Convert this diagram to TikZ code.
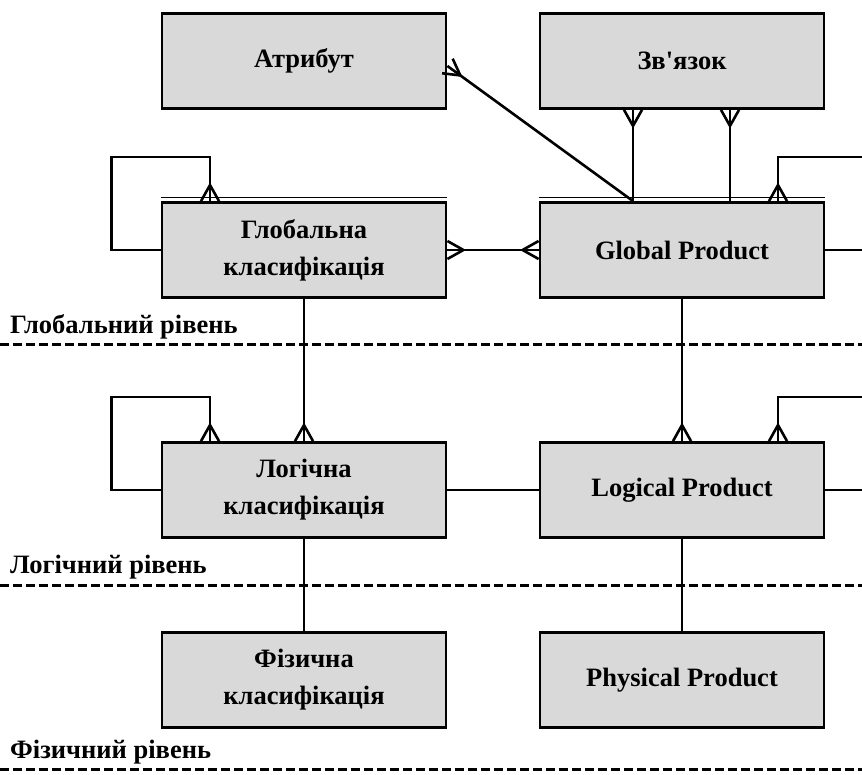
\documentclass[tikz,border=0pt]{standalone}
\usepackage{fontspec}
\setmainfont{Liberation Serif}
\usetikzlibrary{arrows.meta}

% crow's foot end
\pgfdeclarearrow{
  name = Crow,
  setup code = {
    \pgfarrowssettipend{0pt}
    \pgfarrowssetlineend{0pt}
    \pgfarrowssetbackend{-\pgfarrowlength}
    \pgfarrowssavethe\pgfarrowlength
    \pgfarrowssavethe\pgfarrowwidth
  },
  drawing code = {
    \pgfsetroundjoin
    \pgfpathmoveto{\pgfqpoint{0pt}{.5\pgfarrowwidth}}
    \pgfpathlineto{\pgfqpoint{-\pgfarrowlength}{0pt}}
    \pgfpathlineto{\pgfqpoint{0pt}{-.5\pgfarrowwidth}}
    \pgfusepathqstroke
  },
  parameters = {\the\pgfarrowlength,\the\pgfarrowwidth},
  defaults = {length=16pt, width=18pt}
}

\definecolor{boxgray}{RGB}{217,217,217}

\tikzset{
  entity/.style={draw, line width=2.8pt, fill=boxgray, minimum width=284pt,
    minimum height=95pt, align=center, inner sep=2pt,
    font=\fontsize{26.5}{37}\selectfont\bfseries},
  link/.style={line width=2.6pt},
  level/.style={anchor=west, inner sep=0pt, font=\fontsize{26.5}{28}\selectfont\bfseries},
  levelline/.style={line width=3pt, dash pattern=on 9pt off 4pt},
  crow/.tip={Crow[length=16pt, width=18pt]}
}

\begin{document}
\begin{tikzpicture}[x=1pt, y=-1pt]
	%%%%% frame %%%%%
	\clip (0, 0) rectangle (862, 775);
	\fill[white] (0, 0) rectangle (862, 775);
	
	%%%%% entities %%%%%
	\node[entity] (attr) at (304, 61) {Атрибут};
	\node[entity] (rel) at (682, 61) {Зв\textquotesingle язок};
	
	\node[entity] (gk) at (304, 250) {Глобальна\\класифікація};
	\node[entity] (gp) at (682, 250) {Global Product};
	\draw[line width=1pt] ([yshift=3.5pt]gk.north west) -- ([yshift=3.5pt]gk.north east);
	\draw[line width=1pt] ([yshift=3.5pt]gp.north west) -- ([yshift=3.5pt]gp.north east);
	
	\node[entity] (lk) at (304, 490) {Логічна\\класифікація};
	\node[entity] (lp) at (682, 490) {Logical Product};
	
	\node[entity] (fk) at (304, 680) {Фізична\\класифікація};
	\node[entity] (fp) at (682, 680) {Physical Product};
	
	%%%%% levels %%%%%
	\node[level] (glev) at (10, 327) {Глобальний рівень};
	\draw[levelline] (0, 345) -- (862, 345);
	\node[level] (llev) at (10, 567) {Логічний рівень};
	\draw[levelline] (0, 585) -- (862, 585);
	\node[level] (flev) at (10, 752) {Фізичний рівень};
	\draw[levelline] (0, 769) -- (862, 769);
	
	%%%%% global links %%%%%
	\draw[link, -crow] (gk.west) -| ++(-49, -93) -| ([xshift=-94pt]gk.north);
	\draw[link, crow-crow] (gk.east) -- (gp.west);
	\draw[link, -crow] ([xshift=-49pt]gp.north) -- ([yshift=-5pt]attr.east);
	\draw[link, crow-] ([xshift=-49pt]rel.south) -- ([xshift=-49pt]gp.north);
	\draw[link, crow-] ([xshift=48pt]rel.south) -- ([xshift=48pt]gp.north);
	\draw[link, -crow] (gp.east) -| ++(60, -93) -| ([xshift=96pt]gp.north);
	
	%%%%% logical links %%%%%
	\draw[link, -crow] (gk.south) -- (lk.north);
	\draw[link, -crow] (gp.south) -- (lp.north);
	\draw[link, -crow] (lk.west) -| ++(-49, -93) -| ([xshift=-94pt]lk.north);
	\draw[link] (lk.east) -- (lp.west);
	\draw[link, -crow] (lp.east) -| ++(60, -93) -| ([xshift=96pt]lp.north);
	
	%%%%% physical links %%%%%
	\draw[link] (lk.south) -- (fk.north);
	\draw[link] (lp.south) -- (fp.north);
\end{tikzpicture}
\end{document}
